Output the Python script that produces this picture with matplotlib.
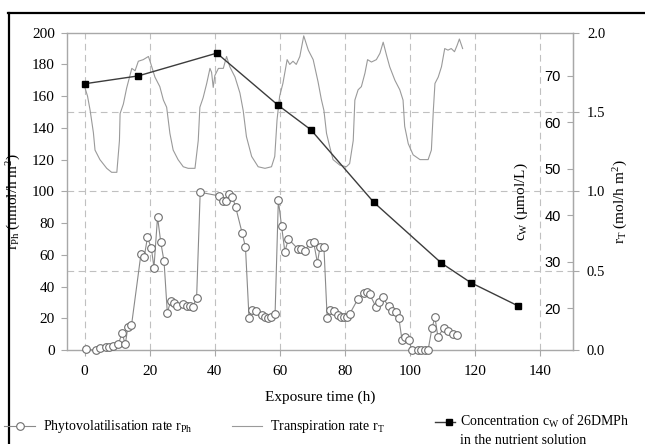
import matplotlib
matplotlib.use('Agg')
import matplotlib.pyplot as plt
from matplotlib.lines import Line2D

# Phytovolatilisation rate r_Ph (nmol/h m2), left axis
ph_x = [0.3, 3.5, 4.6, 6.5, 7.5, 8.6, 10.3, 11.5, 12.5, 13.3, 14.4,
        17.3, 18.3, 19.3, 20.5, 21.3, 22.4, 23.4, 24.4, 25.4, 26.5, 27.5, 28.5,
        30.3, 31.3, 32.3, 33.3, 34.4, 35.5, 41.4, 42.4, 43.5, 44.4, 45.4, 46.4,
        48.4, 49.4, 50.5, 51.3, 52.5, 54.4, 55.4, 56.3, 57.3, 58.5, 59.5, 60.5,
        61.5, 62.6, 65.6, 66.6, 67.6, 69.2, 70.3, 71.5, 72.3, 73.5, 74.5, 75.5,
        76.6, 77.8, 78.8, 79.8, 80.6, 81.4, 83.9, 85.8, 86.8, 87.5, 89.5, 90.4,
        91.5, 93.4, 94.4, 95.5, 96.5, 97.5, 98.4, 99.5, 100.5, 102.4, 103.4,
        104.4, 105.5, 106.7, 107.6, 108.5, 110.4, 111.6, 113.2, 114.5]
ph_y = [0.4, 0.0, 1.0, 1.8, 2.2, 2.6, 3.5, 10.5, 3.7, 14.6, 15.5,
        60.4, 58.5, 71.0, 64.2, 52.0, 83.8, 67.8, 55.8, 23.6, 31.2, 29.9, 27.8,
        28.8, 27.8, 27.8, 27.4, 33.0, 99.4, 97.1, 93.8, 93.8, 98.1, 96.5, 90.0,
        73.6, 64.9, 20.1, 25.2, 24.4, 22.1, 21.0, 20.4, 20.6, 22.8, 94.4, 78.0,
        62.0, 70.0, 63.5, 63.5, 62.7, 67.3, 68.3, 55.0, 64.8, 64.8, 20.1, 25.0,
        24.5, 22.0, 20.6, 20.6, 20.6, 22.7, 32.0, 36.0, 36.5, 35.3, 27.1, 30.5,
        33.1, 27.6, 24.6, 24.2, 20.3, 6.0, 8.0, 6.4, 0.1, 0.1, 0.1,
        0.1, 0.1, 14.0, 20.6, 8.4, 14.0, 12.0, 10.2, 9.5]

# Transpiration rate r_T (mol/h m2), outer right axis
tr_x = [0.0, 0.9, 1.7, 2.7, 3.2, 4.7, 6.8, 8.3, 9.9, 10.7, 10.9, 11.9, 12.9,
        14.5, 15.5, 16.5, 18.0, 19.6, 20.1, 21.6, 23.1, 24.2, 25.2, 26.2, 27.2,
        28.7, 30.3, 31.8, 33.9, 34.9, 35.4, 36.4, 37.5, 38.5, 39.0, 39.5, 40.0,
        41.1, 42.6, 43.6, 44.6, 46.2, 47.7, 48.7, 49.7, 51.3, 53.3, 55.4, 57.4,
        58.4, 59.1, 59.9, 60.9, 62.2, 63.0, 64.0, 65.0, 66.1, 67.3, 68.7, 70.2,
        71.7, 72.7, 73.5, 74.3, 75.3, 76.3, 78.4, 80.4, 81.4, 82.5, 83.0, 84.0,
        85.0, 86.1, 86.9, 88.1, 89.6, 90.7, 91.7, 92.7, 93.7, 95.3, 96.8, 97.8,
        98.3, 99.4, 100.9, 103.0, 105.5, 106.5, 107.1, 107.6, 108.6, 109.6,
        110.6, 111.6, 112.6, 113.6, 114.4, 115.1, 116.1]
tr_y = [1.66, 1.60, 1.51, 1.37, 1.26, 1.20, 1.145, 1.12, 1.12, 1.32, 1.49, 1.55, 1.65,
        1.775, 1.76, 1.82, 1.83, 1.85, 1.82, 1.72, 1.66, 1.575, 1.53, 1.365, 1.26,
        1.20, 1.155, 1.145, 1.145, 1.32, 1.53, 1.59, 1.68, 1.775, 1.75, 1.655, 1.73,
        1.775, 1.775, 1.85, 1.785, 1.72, 1.62, 1.51, 1.345, 1.22, 1.155, 1.145, 1.155,
        1.22, 1.45, 1.60, 1.68, 1.83, 1.80, 1.82, 1.80, 1.85, 1.98, 1.89, 1.83,
        1.69, 1.58, 1.51, 1.365, 1.28, 1.20, 1.165, 1.155, 1.175, 1.32, 1.575, 1.64,
        1.66, 1.745, 1.83, 1.815, 1.83, 1.87, 1.94, 1.86, 1.785, 1.70, 1.64, 1.575,
        1.41, 1.30, 1.23, 1.20, 1.20, 1.26, 1.51, 1.68, 1.72, 1.785,
        1.90, 1.89, 1.90, 1.88, 1.92, 1.96, 1.90]

# Concentration c_W (umol/L), inner right axis
cw_x = [0.0, 16.5, 40.6, 59.4, 69.5, 88.8, 109.6, 118.6, 133.1]
cw_y = [68.3, 70.0, 74.9, 63.7, 58.4, 42.8, 29.7, 25.5, 20.5]

x_ticks = [0, 20, 40, 60, 80, 100, 120, 140]
ph_ticks = [0, 20, 40, 60, 80, 100, 120, 140, 160, 180, 200]
tr_ticks = [0.0, 0.5, 1.0, 1.5, 2.0]
cw_ticks = [20, 30, 40, 50, 60, 70]

plt.rcParams['font.family'] = 'Liberation Serif'
plt.rcParams['mathtext.fontset'] = 'custom'
plt.rcParams['mathtext.rm'] = 'Liberation Serif'
plt.rcParams['mathtext.it'] = 'Liberation Serif:italic'

grey = '#a8a8a8'
grid_c = '#c0c0c0'

fig = plt.figure(figsize=(6.45, 4.44), dpi=100)
ax = fig.add_axes([0.1034, 0.2117, 0.785, 0.7147])
ax_t = ax.twinx()
ax_c = ax.twinx()

ax.set_xlim(-5.5, 150)
ax.set_ylim(0, 200)
ax_t.set_ylim(0, 2.0)
ax_c.set_ylim(11.0, 79.3)

# grid
ax.set_xticks(x_ticks)
ax.xaxis.grid(True, color=grid_c, ls=(0, (6, 4)), lw=0.8)
for yv in [50, 100, 150]:
    ax.axhline(yv, color=grid_c, ls=(0, (6, 4)), lw=0.8, zorder=0.5)
ax.set_axisbelow(True)

# series
ax.plot(ph_x, ph_y, '-o', color='#8a8a8a', lw=0.8, mfc='white', mec='#6e6e6e',
        ms=5.5, mew=0.8, clip_on=False, zorder=3)
ax_t.plot(tr_x, tr_y, color='#9a9a9a', lw=0.8)
ax_c.plot(cw_x, cw_y, '-s', color='#3c3c3c', lw=1.0, mfc='black', mec='black', ms=5)

# left axis
ax.set_yticks(ph_ticks)
ax.tick_params(axis='both', direction='out', length=4, width=0.8, color=grey)
ax.tick_params(axis='x', pad=7, labelsize=11)
ax.tick_params(axis='y', pad=4.5, labelsize=11)
for s in ax.spines.values():
    s.set_color(grey)
    s.set_linewidth(1.0)
ax.set_xlabel('Exposure time (h)', fontsize=11, labelpad=9)
ax.set_ylabel('r$_{\\mathrm{Ph}}$ (nmol/h m$^{2}$)', fontsize=11)
ax.yaxis.set_label_coords(-0.0863, 0.468)

# r_T axis (outer right)
ax_t.set_yticks(tr_ticks)
ax_t.set_yticklabels(['%.1f' % v for v in tr_ticks])
ax_t.tick_params(axis='y', direction='out', length=4, width=0.8, color=grey,
                 pad=6, labelsize=10.5)
for name, s in ax_t.spines.items():
    s.set_visible(name == 'right')
    s.set_color(grey)
ax_t.set_ylabel('r$_{\\mathrm{T}}$ (mol/h m$^{2}$)', fontsize=11)
ax_t.yaxis.set_label_coords(1.0764, 0.468)

# c_W axis (inside, on the right spine)
ax_c.yaxis.tick_left()
ax_c.spines['left'].set_position(('axes', 1.0))
for s in ax_c.spines.values():
    s.set_visible(False)
ax_c.set_yticks(cw_ticks)
ax_c.tick_params(axis='y', direction='out', length=4, width=0.8, color=grey,
                 pad=5, labelsize=10.5)
for lab in ax_c.get_yticklabels():
    lab.set_fontfamily('Liberation Sans')
ax_c.yaxis.set_label_position('left')
ax_c.set_ylabel('c$_{\\mathrm{W}}$ (µmol/L)', fontsize=11)
ax_c.yaxis.set_label_coords(0.915, 0.468)

# outer frame
W, H = 645.0, 444.0
fig.add_artist(Line2D([8 / W, 1], [1 - 13 / H, 1 - 13 / H], color='black', lw=1.6))
fig.add_artist(Line2D([9 / W, 9 / W], [0, 1 - 13 / H], color='black', lw=1.6))

# legend
yl = 1 - 426 / H
fig.add_artist(Line2D([4 / W, 35 / W], [yl, yl], color='#8a8a8a', lw=0.8))
fig.add_artist(Line2D([20 / W], [yl], marker='o', ms=5.5, mfc='white', mec='#6e6e6e', mew=0.8))
fig.text(43 / W, yl, 'Phytovolatilisation rate r$_{\\mathrm{Ph}}$', fontsize=10, va='center')
fig.add_artist(Line2D([232 / W, 262 / W], [yl, yl], color='#9a9a9a', lw=0.8))
fig.text(270 / W, yl, 'Transpiration rate r$_{\\mathrm{T}}$', fontsize=10, va='center')
y3 = 1 - 421.5 / H
fig.add_artist(Line2D([435 / W, 455 / W], [y3, y3], color='#3c3c3c', lw=1.0))
fig.add_artist(Line2D([449 / W], [y3], marker='s', ms=5, mfc='black', mec='black'))
fig.text(460 / W, y3, 'Concentration c$_{\\mathrm{W}}$ of 26DMPh', fontsize=10, va='center')
fig.text(460 / W, 1 - 440.5 / H, 'in the nutrient solution', fontsize=10, va='center')

fig.savefig('out.png', dpi=100)
